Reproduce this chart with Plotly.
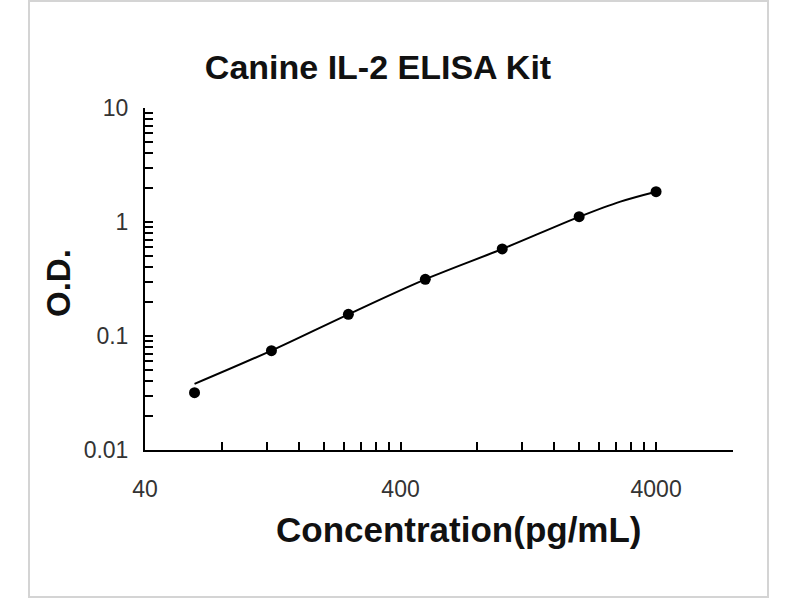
import plotly.graph_objects as go

# standard points (pg/mL vs O.D.)
conc = [62.5, 125, 250, 500, 1000, 2000, 4000]
od = [0.0318, 0.0743, 0.155, 0.314, 0.58, 1.113, 1.845]

# fitted curve
fit_conc = [62.5, 125, 250, 500, 1000, 2000, 2900, 4000]
fit_od = [0.038, 0.0745, 0.155, 0.314, 0.58, 1.11, 1.51, 1.845]

# tick positions / labels
x_ticks = [40, 80, 120, 160, 200, 240, 280, 320, 360, 400,
           800, 1200, 1600, 2000, 2400, 2800, 3200, 3600, 4000, 8000]
x_labels = ["40", "", "", "", "", "", "", "", "", "400",
            "", "", "", "", "", "", "", "", "4000", ""]
y_ticks = [0.01, 0.02, 0.03, 0.04, 0.05, 0.06, 0.07, 0.08, 0.09,
           0.1, 0.2, 0.3, 0.4, 0.5, 0.6, 0.7, 0.8, 0.9,
           1, 2, 3, 4, 5, 6, 7, 8, 9, 10]
y_labels = ["0.01", "", "", "", "", "", "", "", "",
            "0.1", "", "", "", "", "", "", "", "",
            "1", "", "", "", "", "", "", "", "", "10"]

fig = go.Figure()
fig.add_trace(go.Scatter(x=fit_conc, y=fit_od, mode="lines",
                         line=dict(color="black", width=2, shape="spline"),
                         showlegend=False))
fig.add_trace(go.Scatter(x=conc, y=od, mode="markers",
                         marker=dict(color="black", size=11),
                         showlegend=False))

font = "Liberation Sans, Arial, sans-serif"
axis_style = dict(showgrid=False, zeroline=False, showline=True,
                  linecolor="black", linewidth=2, ticks="inside",
                  ticklen=8, tickwidth=2, tickcolor="black",
                  tickfont=dict(family=font, size=23, color="#333333"))

fig.update_xaxes(type="log", range=[1.60206, 3.90309],
                 tickmode="array", tickvals=x_ticks, ticktext=x_labels,
                 ticklabelstandoff=17, **axis_style)
fig.update_yaxes(type="log", range=[-2, 1],
                 tickmode="array", tickvals=y_ticks, ticktext=y_labels,
                 ticklabelstandoff=10, **axis_style)

fig.update_layout(
    width=800, height=600,
    margin=dict(l=145, r=67, t=108, b=150),
    paper_bgcolor="white", plot_bgcolor="white",
    title=dict(text="<b>Canine IL-2 ELISA Kit</b>", x=378 / 800, xanchor="center",
               y=1 - 67 / 600, yanchor="middle",
               font=dict(family=font, size=34, color="#111111")),
    annotations=[
        dict(text="<b>Concentration(pg/mL)</b>", xref="paper", yref="paper",
             x=(459 - 145) / 588, y=(450 - 529) / 342, xanchor="center", yanchor="middle",
             showarrow=False, font=dict(family=font, size=35, color="#111111")),
        dict(text="<b>O.D.</b>", xref="paper", yref="paper", textangle=-90,
             x=(58 - 145) / 588, y=(450 - 283) / 342, xanchor="center", yanchor="middle",
             showarrow=False, font=dict(family=font, size=33, color="#111111")),
    ],
    shapes=[dict(type="rect", xref="paper", yref="paper",
                 x0=(29 - 145) / 588, x1=(768 - 145) / 588,
                 y0=(450 - 597) / 342, y1=(450 - 1) / 342,
                 line=dict(color="#d4d4d4", width=2), layer="below")],
)

# page body has a default 8px margin; drop it so the figure sits at 0,0
fig.write_html("out.html", config={"displayModeBar": False},
               post_script="document.body.style.margin='0';")
